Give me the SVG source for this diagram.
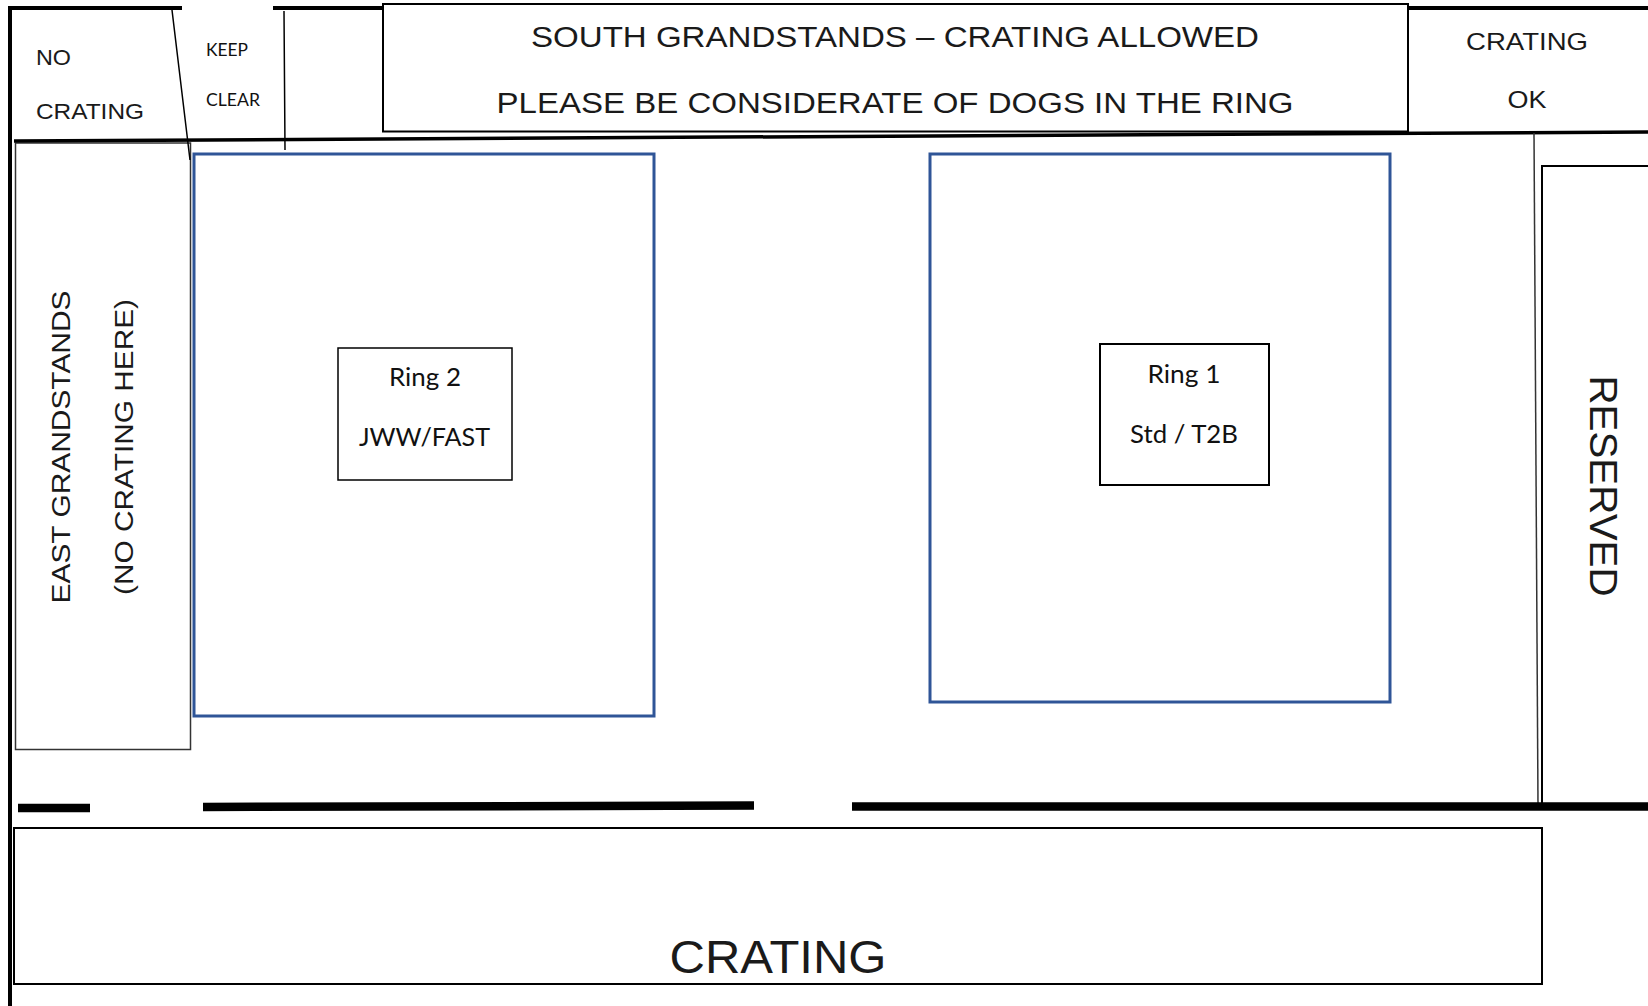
<svg xmlns="http://www.w3.org/2000/svg" width="1648" height="1006" viewBox="0 0 1648 1006">
<style>
.a{font-family:"Liberation Sans",Arial,sans-serif;fill:#1a1a1a}
.l{font-family:Lato,"Liberation Sans",sans-serif;fill:#111}
.box{fill:#fff;stroke:#000}
.ring{fill:#fff;stroke:#2f5597;stroke-width:3}
.wall{stroke:#000;fill:none}
.m{text-anchor:middle}
</style>
<rect width="1648" height="1006" fill="#fff"/>
<g id="no-crating"><text class="a" x="36" y="65" font-size="21.500" textLength="35" lengthAdjust="spacingAndGlyphs">NO</text><text class="a" x="36" y="119" font-size="21.500" textLength="108" lengthAdjust="spacingAndGlyphs">CRATING</text></g>
<g id="keep-clear"><text class="l" x="206" y="56" font-size="18" textLength="42" lengthAdjust="spacingAndGlyphs">KEEP</text><text class="l" x="206" y="106" font-size="18" textLength="54" lengthAdjust="spacingAndGlyphs">CLEAR</text></g>
<g id="south-grandstands"><rect class="box" stroke-width="2" x="383" y="4" width="1025" height="127.500"/>
<text class="a m" x="895" y="47" font-size="29.500" textLength="728" lengthAdjust="spacingAndGlyphs">SOUTH GRANDSTANDS – CRATING ALLOWED</text>
<text class="a m" x="895" y="113" font-size="29.500" textLength="797" lengthAdjust="spacingAndGlyphs">PLEASE BE CONSIDERATE OF DOGS IN THE RING</text></g>
<g id="crating-ok"><text class="a m" x="1527" y="50" font-size="24" textLength="122" lengthAdjust="spacingAndGlyphs">CRATING</text><text class="a m" x="1527" y="108" font-size="24" textLength="39" lengthAdjust="spacingAndGlyphs">OK</text></g>
<g id="east-grandstands"><rect class="box" stroke-width="1.500" style="stroke:#333" x="15.500" y="143" width="175" height="606.500"/>
<text class="a m" transform="translate(70 447) rotate(-90)" font-size="26.500" textLength="313" lengthAdjust="spacingAndGlyphs">EAST GRANDSTANDS</text>
<text class="a m" transform="translate(133 447) rotate(-90)" font-size="26.500" textLength="296" lengthAdjust="spacingAndGlyphs">(NO CRATING HERE)</text></g>
<g id="ring-2"><rect class="ring" x="194" y="154" width="460" height="562"/>
<rect class="box" stroke-width="1.500" x="338" y="348" width="174" height="132"/>
<text class="l m" x="425" y="386" font-size="25" textLength="72" lengthAdjust="spacingAndGlyphs">Ring 2</text><text class="l m" x="424.500" y="446" font-size="25" textLength="131" lengthAdjust="spacingAndGlyphs">JWW/FAST</text></g>
<g id="ring-1"><rect class="ring" x="930" y="154" width="460" height="548"/>
<rect class="box" stroke-width="2" x="1100" y="344" width="169" height="141"/>
<text class="l m" x="1184" y="383" font-size="25" textLength="73" lengthAdjust="spacingAndGlyphs">Ring 1</text><text class="l m" x="1184" y="443" font-size="25" textLength="108" lengthAdjust="spacingAndGlyphs">Std / T2B</text></g>
<g id="reserved"><path class="wall" stroke-width="2" d="M1648 166H1542V805"/>
<text class="a m" transform="translate(1590 486) rotate(90)" font-size="39" textLength="221" lengthAdjust="spacingAndGlyphs">RESERVED</text></g>
<g id="crating"><rect class="box" stroke-width="2" x="14" y="828" width="1528" height="156"/>
<text class="a m" x="778" y="973" font-size="46" textLength="217" lengthAdjust="spacingAndGlyphs">CRATING</text></g>
<g id="connectors">
<path class="wall" stroke-width="4" d="M10 8V1006M8 8H182M273 8H384M1408 8H1648"/>
<path class="wall" stroke-width="3.500" d="M14 141L1648 132"/>
<path class="wall" stroke-width="1.500" d="M172 10L190 160M284 11L285 150"/>
<path class="wall" stroke-width="1.500" style="stroke:#333" d="M1534 133L1538 805"/>
<path class="wall" stroke-width="8.500" d="M18 808H90M203 807L754 805.500M852 806.500H1648"/>
</g>
</svg>
